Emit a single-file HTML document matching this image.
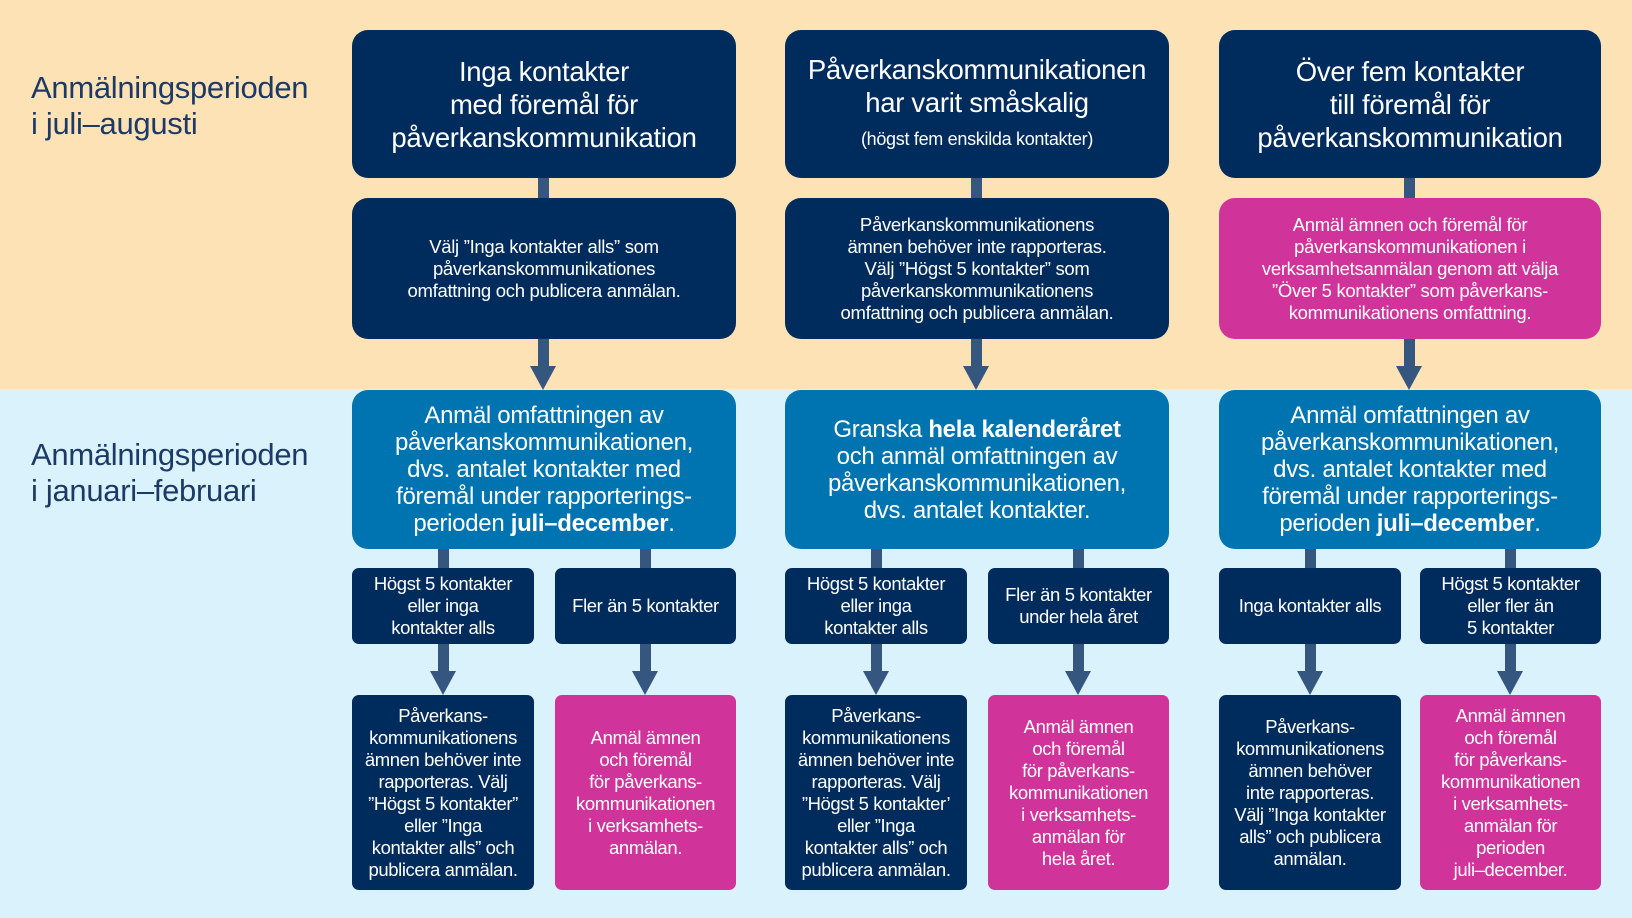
<!DOCTYPE html>
<html><head><meta charset="utf-8"><style>
body{margin:0;width:1632px;height:918px;position:relative;overflow:hidden;font-family:"Liberation Sans",sans-serif;background:#daf2fc}
.top{position:absolute;left:0;top:0;width:1632px;height:389px;background:#fde2b6}
.b{position:absolute;display:flex;align-items:center;justify-content:center;text-align:center;color:#fff;box-sizing:border-box;letter-spacing:-0.3px}
.b>div{width:100%}
.n{background:#002c5d}.m{background:#0074b1}.p{background:#d0339a}
.t1{font-size:27.5px;line-height:33px;border-radius:16px}
.t2{font-size:18.5px;line-height:22px;border-radius:16px}
.t3{font-size:24px;line-height:27px;border-radius:16px}
.s{font-size:18.5px;line-height:22px;border-radius:7px;letter-spacing:-0.4px}
.bar{position:absolute;width:11px;background:#35577f}
.tri{position:absolute;width:0;height:0;border-left:13px solid transparent;border-right:13px solid transparent;border-top:24px solid #35577f}
.lab{position:absolute;left:31px;font-size:31px;line-height:36px;color:#1d3a66;letter-spacing:-0.3px}
</style></head><body>
<div class="top"></div>
<div class="lab" style="top:70px">Anmälningsperioden<br>i juli–augusti</div>
<div class="lab" style="top:437px">Anmälningsperioden<br>i januari–februari</div>

<div class="bar" style="left:538px;top:176px;height:24px"></div>
<div class="bar" style="left:971px;top:176px;height:24px"></div>
<div class="bar" style="left:1404px;top:176px;height:24px"></div>
<div class="bar" style="left:538px;top:337px;height:30px"></div><div class="tri" style="left:530px;top:366px"></div>
<div class="bar" style="left:971px;top:337px;height:30px"></div><div class="tri" style="left:963px;top:366px"></div>
<div class="bar" style="left:1404px;top:337px;height:30px"></div><div class="tri" style="left:1396px;top:366px"></div>

<div class="bar" style="left:438px;top:547px;height:23px"></div>
<div class="bar" style="left:640px;top:547px;height:23px"></div>
<div class="bar" style="left:871px;top:547px;height:23px"></div>
<div class="bar" style="left:1073px;top:547px;height:23px"></div>
<div class="bar" style="left:1305px;top:547px;height:23px"></div>
<div class="bar" style="left:1505px;top:547px;height:23px"></div>

<div class="bar" style="left:438px;top:642px;height:30px"></div><div class="tri" style="left:430px;top:671px"></div>
<div class="bar" style="left:640px;top:642px;height:30px"></div><div class="tri" style="left:632px;top:671px"></div>
<div class="bar" style="left:871px;top:642px;height:30px"></div><div class="tri" style="left:863px;top:671px"></div>
<div class="bar" style="left:1073px;top:642px;height:30px"></div><div class="tri" style="left:1065px;top:671px"></div>
<div class="bar" style="left:1305px;top:642px;height:30px"></div><div class="tri" style="left:1297px;top:671px"></div>
<div class="bar" style="left:1505px;top:642px;height:30px"></div><div class="tri" style="left:1497px;top:671px"></div>

<div class="b n t1" style="left:352px;top:30px;width:384px;height:148px"><div>Inga kontakter<br>med föremål för<br>påverkanskommunikation</div></div>
<div class="b n t1" style="left:785px;top:30px;width:384px;height:148px"><div>Påverkanskommunikationen<br>har varit småskalig<br><span style="font-size:18px;line-height:34px">(högst fem enskilda kontakter)</span></div></div>
<div class="b n t1" style="left:1219px;top:30px;width:382px;height:148px"><div>Över fem kontakter<br>till föremål för<br>påverkanskommunikation</div></div>

<div class="b n t2" style="left:352px;top:198px;width:384px;height:141px"><div>Välj ”Inga kontakter alls” som<br>påverkanskommunikationes<br>omfattning och publicera anmälan.</div></div>
<div class="b n t2" style="left:785px;top:198px;width:384px;height:141px"><div>Påverkanskommunikationens<br>ämnen behöver inte rapporteras.<br>Välj ”Högst 5 kontakter” som<br>påverkanskommunikationens<br>omfattning och publicera anmälan.</div></div>
<div class="b p t2" style="left:1219px;top:198px;width:382px;height:141px"><div>Anmäl ämnen och föremål för<br>påverkanskommunikationen i<br>verksamhetsanmälan genom att välja<br>”Över 5 kontakter” som påverkans-<br>kommunikationens omfattning.</div></div>

<div class="b m t3" style="left:352px;top:390px;width:384px;height:159px"><div>Anmäl omfattningen av<br>påverkanskommunikationen,<br>dvs. antalet kontakter med<br>föremål under rapporterings-<br>perioden <b>juli–december</b>.</div></div>
<div class="b m t3" style="left:785px;top:390px;width:384px;height:159px"><div>Granska <b>hela kalenderåret</b><br>och anmäl omfattningen av<br>påverkanskommunikationen,<br>dvs. antalet kontakter.</div></div>
<div class="b m t3" style="left:1219px;top:390px;width:382px;height:159px"><div>Anmäl omfattningen av<br>påverkanskommunikationen,<br>dvs. antalet kontakter med<br>föremål under rapporterings-<br>perioden <b>juli–december</b>.</div></div>

<div class="b n s" style="left:352px;top:568px;width:182px;height:76px"><div>Högst 5 kontakter<br>eller inga<br>kontakter alls</div></div>
<div class="b n s" style="left:555px;top:568px;width:181px;height:76px"><div>Fler än 5 kontakter</div></div>
<div class="b n s" style="left:785px;top:568px;width:182px;height:76px"><div>Högst 5 kontakter<br>eller inga<br>kontakter alls</div></div>
<div class="b n s" style="left:988px;top:568px;width:181px;height:76px"><div>Fler än 5 kontakter<br>under hela året</div></div>
<div class="b n s" style="left:1219px;top:568px;width:182px;height:76px"><div>Inga kontakter alls</div></div>
<div class="b n s" style="left:1420px;top:568px;width:181px;height:76px"><div>Högst 5 kontakter<br>eller fler än<br>5 kontakter</div></div>

<div class="b n s" style="left:352px;top:695px;width:182px;height:195px"><div>Påverkans-<br>kommunikationens<br>ämnen behöver inte<br>rapporteras. Välj<br>”Högst 5 kontakter”<br>eller ”Inga<br>kontakter alls” och<br>publicera anmälan.</div></div>
<div class="b p s" style="left:555px;top:695px;width:181px;height:195px"><div>Anmäl ämnen<br>och föremål<br>för påverkans-<br>kommunikationen<br>i verksamhets-<br>anmälan.</div></div>
<div class="b n s" style="left:785px;top:695px;width:182px;height:195px"><div>Påverkans-<br>kommunikationens<br>ämnen behöver inte<br>rapporteras. Välj<br>”Högst 5 kontakter’<br>eller ”Inga<br>kontakter alls” och<br>publicera anmälan.</div></div>
<div class="b p s" style="left:988px;top:695px;width:181px;height:195px"><div>Anmäl ämnen<br>och föremål<br>för påverkans-<br>kommunikationen<br>i verksamhets-<br>anmälan för<br>hela året.</div></div>
<div class="b n s" style="left:1219px;top:695px;width:182px;height:195px"><div>Påverkans-<br>kommunikationens<br>ämnen behöver<br>inte rapporteras.<br>Välj ”Inga kontakter<br>alls” och publicera<br>anmälan.</div></div>
<div class="b p s" style="left:1420px;top:695px;width:181px;height:195px"><div>Anmäl ämnen<br>och föremål<br>för påverkans-<br>kommunikationen<br>i verksamhets-<br>anmälan för<br>perioden<br>juli–december.</div></div>
</body></html>
